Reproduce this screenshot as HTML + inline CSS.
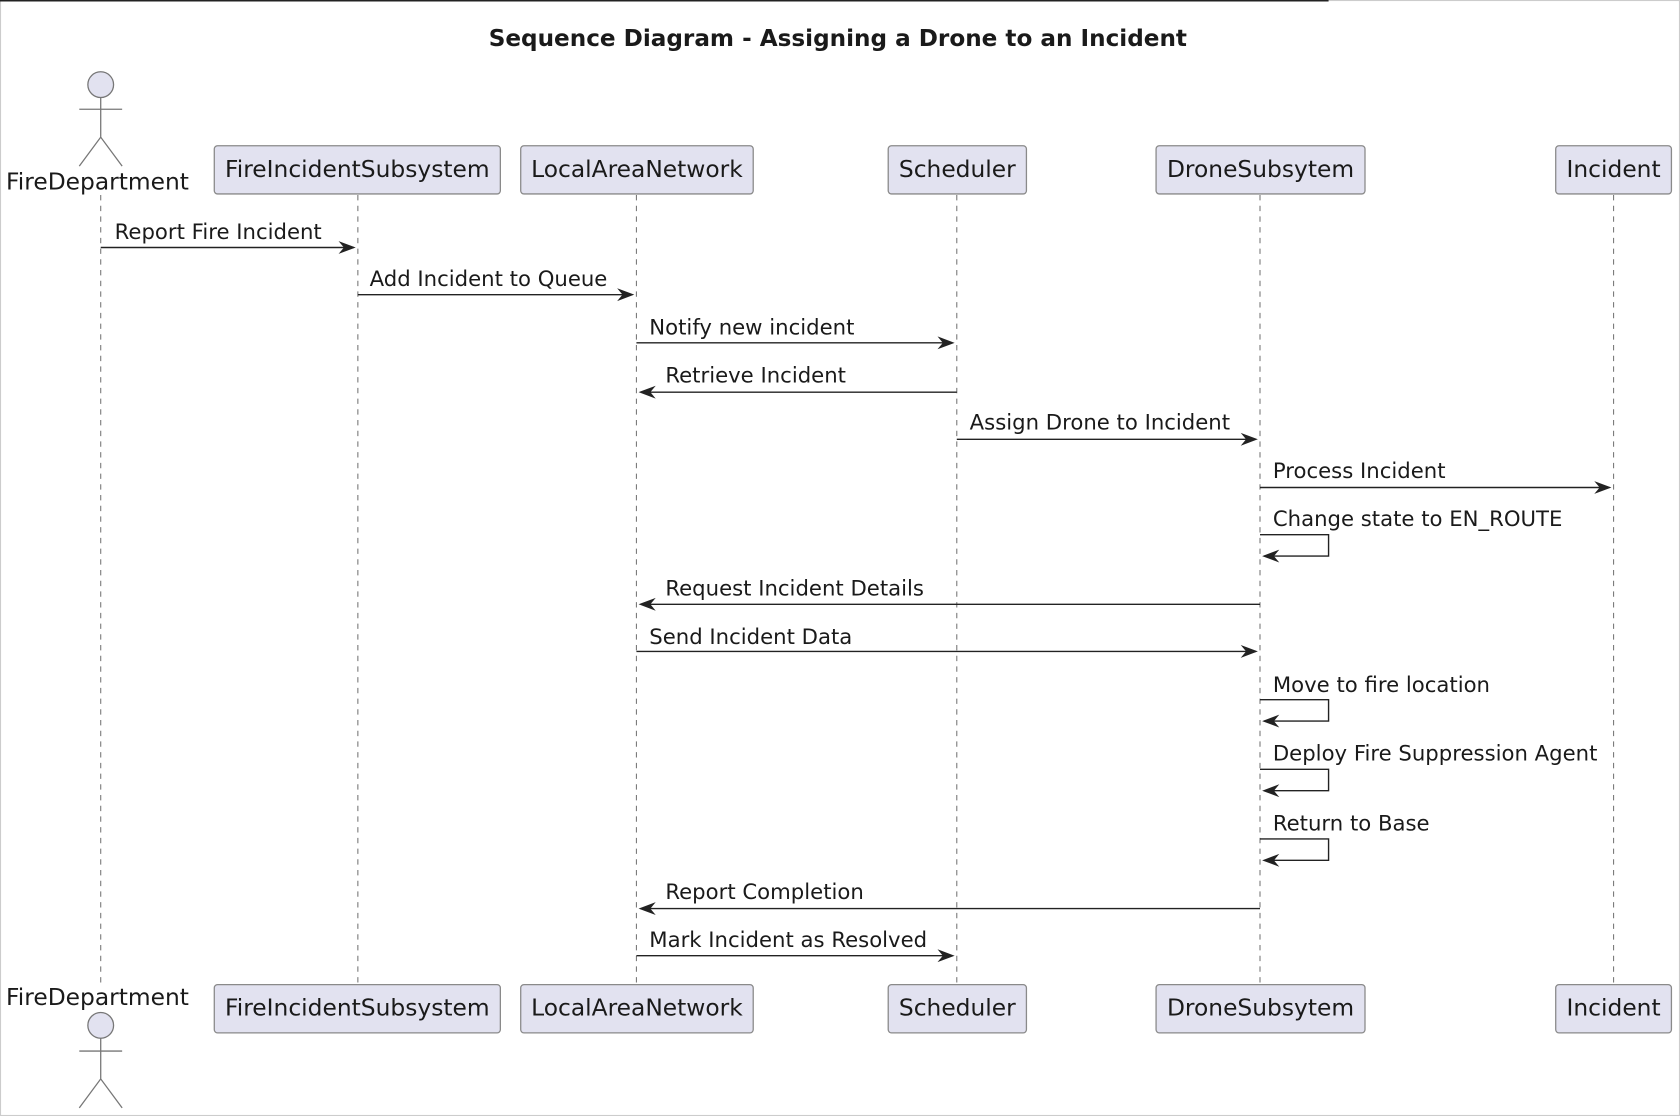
<!DOCTYPE html>
<html><head><meta charset="utf-8"><style>
html,body{margin:0;padding:0;background:#fff;}
svg{display:block;}
text{font-family:"DejaVu Sans","Liberation Sans",sans-serif;fill:#1a1a1a;}
.p{font-size:21.8px;}
.m{font-size:19.8px;}
.box{fill:#e2e2f0;stroke:#8a8a8a;stroke-width:1.2;}
.ll{stroke:#777;stroke-width:1;stroke-dasharray:5,5;}
.ar{stroke:#222;stroke-width:1.3;fill:none;}
.hd{fill:#222;}
.act{fill:#e2e2f0;stroke:#777;stroke-width:1.2;}
.stk{stroke:#777;stroke-width:1.2;fill:none;}
</style></head><body>
<svg width="1680" height="1116" viewBox="0 0 1568 1041.6" xmlns="http://www.w3.org/2000/svg">
<rect x="0.5" y="0.5" width="1567" height="1040.6" fill="#fff" stroke="#ccc"/>
<line x1="0" y1="0.7" x2="1240" y2="0.7" stroke="#222" stroke-width="1.4"/>
<text x="782" y="43" text-anchor="middle" style="font-size:21.6px;font-weight:bold">Sequence Diagram - Assigning a Drone to an Incident</text>

<line class="ll" x1="94" y1="182" x2="94" y2="918"/>
<line class="ll" x1="334" y1="182" x2="334" y2="918"/>
<line class="ll" x1="594" y1="182" x2="594" y2="918"/>
<line class="ll" x1="893" y1="182" x2="893" y2="918"/>
<line class="ll" x1="1176" y1="182" x2="1176" y2="918"/>
<line class="ll" x1="1506" y1="182" x2="1506" y2="918"/>

<circle class="act" cx="94" cy="79" r="12"/>
<path class="stk" d="M94 91 V128 M74 102 H114 M74 155 L94 128 L114 155"/>
<text class="p" x="91" y="177" text-anchor="middle">FireDepartment</text>
<text class="p" x="91" y="938" text-anchor="middle">FireDepartment</text>
<circle class="act" cx="94" cy="957" r="12"/>
<path class="stk" d="M94 969 V1007 M74 981 H114 M74 1034 L94 1007 L114 1034"/>

<g>
<rect class="box" x="200" y="136" width="267" height="45" rx="3"/><text class="p" x="333.5" y="165" text-anchor="middle">FireIncidentSubsystem</text>
<rect class="box" x="486" y="136" width="217" height="45" rx="3"/><text class="p" x="594.5" y="165" text-anchor="middle">LocalAreaNetwork</text>
<rect class="box" x="829" y="136" width="129" height="45" rx="3"/><text class="p" x="893.5" y="165" text-anchor="middle">Scheduler</text>
<rect class="box" x="1079" y="136" width="195" height="45" rx="3"/><text class="p" x="1176.5" y="165" text-anchor="middle">DroneSubsytem</text>
<rect class="box" x="1452" y="136" width="108" height="45" rx="3"/><text class="p" x="1506" y="165" text-anchor="middle">Incident</text>
</g>
<g>
<rect class="box" x="200" y="919" width="267" height="45" rx="3"/><text class="p" x="333.5" y="948" text-anchor="middle">FireIncidentSubsystem</text>
<rect class="box" x="486" y="919" width="217" height="45" rx="3"/><text class="p" x="594.5" y="948" text-anchor="middle">LocalAreaNetwork</text>
<rect class="box" x="829" y="919" width="129" height="45" rx="3"/><text class="p" x="893.5" y="948" text-anchor="middle">Scheduler</text>
<rect class="box" x="1079" y="919" width="195" height="45" rx="3"/><text class="p" x="1176.5" y="948" text-anchor="middle">DroneSubsytem</text>
<rect class="box" x="1452" y="919" width="108" height="45" rx="3"/><text class="p" x="1506" y="948" text-anchor="middle">Incident</text>
</g>

<defs>
<path id="hr" class="hd" d="M0 0 L-16 -6 L-11 0 L-16 6 Z"/>
<path id="hl" class="hd" d="M0 0 L16 -6 L11 0 L16 6 Z"/>
</defs>
<g>
<line class="ar" x1="94" y1="231" x2="330" y2="231"/><use href="#hr" x="332" y="231"/>
<text class="m" x="107" y="223">Report Fire Incident</text>

<line class="ar" x1="334" y1="275" x2="590" y2="275"/><use href="#hr" x="592" y="275"/>
<text class="m" x="345" y="267">Add Incident to Queue</text>

<line class="ar" x1="594" y1="320" x2="889" y2="320"/><use href="#hr" x="891" y="320"/>
<text class="m" x="606" y="312">Notify new incident</text>

<line class="ar" x1="598" y1="366" x2="893" y2="366"/><use href="#hl" x="596" y="366"/>
<text class="m" x="621" y="357">Retrieve Incident</text>

<line class="ar" x1="893" y1="410" x2="1172" y2="410"/><use href="#hr" x="1174" y="410"/>
<text class="m" x="905" y="401">Assign Drone to Incident</text>

<line class="ar" x1="1176" y1="455" x2="1502" y2="455"/><use href="#hr" x="1504" y="455"/>
<text class="m" x="1188" y="446">Process Incident</text>

<path class="ar" d="M1176 499 H1240 V519 H1180"/><use href="#hl" x="1178" y="519"/>
<text class="m" x="1188" y="491">Change state to EN_ROUTE</text>

<line class="ar" x1="598" y1="564" x2="1176" y2="564"/><use href="#hl" x="596" y="564"/>
<text class="m" x="621" y="556">Request Incident Details</text>

<line class="ar" x1="594" y1="608" x2="1172" y2="608"/><use href="#hr" x="1174" y="608"/>
<text class="m" x="606" y="601">Send Incident Data</text>

<path class="ar" d="M1176 653 H1240 V673 H1180"/><use href="#hl" x="1178" y="673"/>
<text class="m" x="1188" y="646">Move to fire location</text>

<path class="ar" d="M1176 718 H1240 V738 H1180"/><use href="#hl" x="1178" y="738"/>
<text class="m" x="1188" y="710">Deploy Fire Suppression Agent</text>

<path class="ar" d="M1176 783 H1240 V803 H1180"/><use href="#hl" x="1178" y="803"/>
<text class="m" x="1188" y="775">Return to Base</text>

<line class="ar" x1="598" y1="848" x2="1176" y2="848"/><use href="#hl" x="596" y="848"/>
<text class="m" x="621" y="839">Report Completion</text>

<line class="ar" x1="594" y1="892" x2="889" y2="892"/><use href="#hr" x="891" y="892"/>
<text class="m" x="606" y="884">Mark Incident as Resolved</text>
</g>
</svg>
</body></html>
